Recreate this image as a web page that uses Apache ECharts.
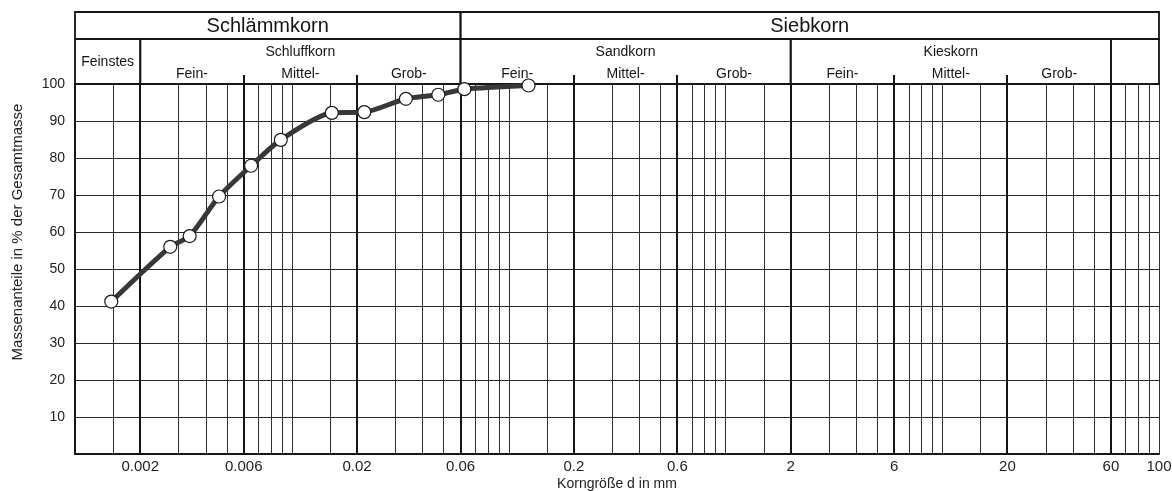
<!DOCTYPE html>
<html><head><meta charset="utf-8">
<script src="https://cdn.jsdelivr.net/npm/echarts@6/dist/echarts.min.js"></script>
<style>html,body{margin:0;padding:0;background:#fff}#c{width:1172px;height:491px}</style>
</head><body><div id="c"></div>
<script>
// ---- data ----
const grainSize = [0.00147, 0.00275, 0.00338, 0.00462, 0.00649, 0.0089, 0.0153, 0.0216, 0.0336, 0.0474, 0.0625, 0.1236];
const passing   = [41.2, 56.0, 58.9, 69.6, 77.9, 84.9, 92.2, 92.4, 96.0, 97.1, 98.6, 99.6];

const xTickValues = [0.002, 0.006, 0.02, 0.06, 0.2, 0.6, 2, 6, 20, 60, 100];
const xTickLabels = ['0.002', '0.006', '0.02', '0.06', '0.2', '0.6', '2', '6', '20', '60', '100'];

const minorGrid = [0.0015, 0.003, 0.004, 0.005, 0.007, 0.008, 0.009, 0.01, 0.015,
  0.03, 0.04, 0.05, 0.07, 0.08, 0.09, 0.1, 0.15,
  0.3, 0.4, 0.5, 0.7, 0.8, 0.9, 1, 1.5,
  3, 4, 5, 7, 8, 9, 10, 15,
  30, 40, 50, 70, 80, 90, 100];
const majorGrid = [0.002, 0.006, 0.02, 0.06, 0.2, 0.6, 2, 6, 20, 60];

const headerTop = [['Schlämmkorn', 0.001, 0.06], ['Siebkorn', 0.06, 100]];
const headerGroups = [['Feinstes', 0.001, 0.002], ['Schluffkorn', 0.002, 0.06],
  ['Sandkorn', 0.06, 2], ['Kieskorn', 2, 60], ['', 60, 100]];
const headerSub = [['Fein-', 0.002, 0.006], ['Mittel-', 0.006, 0.02], ['Grob-', 0.02, 0.06],
  ['Fein-', 0.06, 0.2], ['Mittel-', 0.2, 0.6], ['Grob-', 0.6, 2],
  ['Fein-', 2, 6], ['Mittel-', 6, 20], ['Grob-', 20, 60]];

const yTitle = 'Massenanteile in % der Gesamtmasse';
const xTitle = 'Korngröße d in mm';

// ---- chart ----
const FONT = '"Liberation Sans", Arial, sans-serif';
const INK = '#151515';
const chart = echarts.init(document.getElementById('c'));
const groupStarts = headerGroups.map(g => g[1]);
const crisp = v => Math.round(v) + 0.5;

function vLines(values, width, color) {
  return {
    type: 'custom', coordinateSystem: 'cartesian2d', silent: true, z: 1,
    data: values.map(v => [v, 0]), encode: {x: 0, y: 1},
    renderItem: (p, api) => {
      const v = api.value(0);
      const a = api.coord([v, 0]), b = api.coord([v, 100]);
      const x = width % 2 ? crisp(a[0]) : Math.round(a[0]);
      return {type: 'line', shape: {x1: x, y1: a[1], x2: x, y2: b[1]},
        style: {stroke: color, lineWidth: width}};
    }
  };
}

const option = {
  animation: false,
  backgroundColor: '#fff',
  grid: {left: 75, right: 13, top: 84, bottom: 37, containLabel: false, outerBoundsMode: 'none'},
  xAxis: {
    type: 'log', logBase: 10, min: 0.001, max: 100,
    name: xTitle, nameLocation: 'middle', nameGap: 23,
    nameTextStyle: {fontFamily: FONT, fontSize: 14, color: '#222'},
    axisLine: {show: true, lineStyle: {color: INK, width: 2}},
    axisTick: {show: false}, axisLabel: {show: false}, splitLine: {show: false}
  },
  yAxis: {
    type: 'value', min: 0, max: 100, interval: 10,
    axisLine: {show: true, lineStyle: {color: INK, width: 2}},
    axisTick: {show: false},
    axisLabel: {fontFamily: FONT, fontSize: 14, color: '#222', margin: 10,
      formatter: v => v === 0 ? '' : String(v)},
    splitLine: {show: true, lineStyle: {color: '#2a2a2a', width: 1}}
  },
  graphic: [{
    type: 'text', x: 18, y: 232, rotation: Math.PI / 2,
    style: {text: yTitle, align: 'center', verticalAlign: 'middle',
      font: '15px ' + FONT, fill: '#222'}
  }],
  series: [
    vLines(minorGrid, 1, '#2e2e2e'),
    vLines(majorGrid, 2, INK),
    // x tick labels
    {
      type: 'custom', coordinateSystem: 'cartesian2d', silent: true, z: 3,
      data: xTickValues.map(v => [v, 0]), encode: {x: 0, y: 1},
      renderItem: (p, api) => {
        const a = api.coord([api.value(0), 0]);
        return {type: 'text', style: {text: xTickLabels[p.dataIndex], x: a[0], y: a[1] + 5,
          align: 'center', verticalAlign: 'top', font: '15px ' + FONT, fill: '#222'}};
      }
    },
    // header top row
    {
      type: 'custom', coordinateSystem: 'cartesian2d', silent: true, z: 3, clip: false,
      data: headerTop.map(d => [d[1], d[2]]), encode: {x: [0, 1]},
      renderItem: (p, api) => {
        const a = api.coord([api.value(0), 100]), b = api.coord([api.value(1), 100]);
        const top = a[1];
        return {type: 'group', children: [
          {type: 'rect', shape: {x: a[0], y: top - 72, width: b[0] - a[0], height: 27},
            style: {fill: 'none', stroke: INK, lineWidth: 1.8}},
          {type: 'text', style: {text: headerTop[p.dataIndex][0], x: (a[0] + b[0]) / 2, y: top - 58,
            align: 'center', verticalAlign: 'middle', font: '20px ' + FONT, fill: INK}}
        ]};
      }
    },
    // header group row
    {
      type: 'custom', coordinateSystem: 'cartesian2d', silent: true, z: 3, clip: false,
      data: headerGroups.map(d => [d[1], d[2]]), encode: {x: [0, 1]},
      renderItem: (p, api) => {
        const g = headerGroups[p.dataIndex];
        const a = api.coord([api.value(0), 100]), b = api.coord([api.value(1), 100]);
        const top = a[1];
        const hasSub = headerSub.some(s => s[1] >= g[1] && s[2] <= g[2]);
        return {type: 'group', children: [
          {type: 'rect', shape: {x: a[0], y: top - 45, width: b[0] - a[0], height: 45},
            style: {fill: 'none', stroke: INK, lineWidth: 1.8}},
          {type: 'text', style: {text: g[0], x: (a[0] + b[0]) / 2, y: hasSub ? top - 32 : top - 22,
            align: 'center', verticalAlign: 'middle', font: '14px ' + FONT, fill: INK}}
        ]};
      }
    },
    // header sub row
    {
      type: 'custom', coordinateSystem: 'cartesian2d', silent: true, z: 3, clip: false,
      data: headerSub.map(d => [d[1], d[2]]), encode: {x: [0, 1]},
      renderItem: (p, api) => {
        const s = headerSub[p.dataIndex];
        const a = api.coord([api.value(0), 100]), b = api.coord([api.value(1), 100]);
        const top = a[1];
        const children = [
          {type: 'text', style: {text: s[0], x: (a[0] + b[0]) / 2, y: top - 10,
            align: 'center', verticalAlign: 'middle', font: '14px ' + FONT, fill: INK}}
        ];
        if (groupStarts.indexOf(s[1]) < 0) {
          const x = Math.round(a[0]);
          children.push({type: 'line', shape: {x1: x, y1: top - 9, x2: x, y2: top},
            style: {stroke: INK, lineWidth: 2}});
        }
        return {type: 'group', children};
      }
    },
    // grading curve
    {
      type: 'line', z: 6,
      data: grainSize.map((x, i) => [x, passing[i]]),
      smooth: 0.25, symbol: 'circle', symbolSize: 13, showSymbol: true,
      lineStyle: {color: '#383838', width: 5},
      itemStyle: {color: '#ffffff', borderColor: '#1a1a1a', borderWidth: 1.2}
    }
  ]
};
chart.setOption(option);
</script>
</body></html>
